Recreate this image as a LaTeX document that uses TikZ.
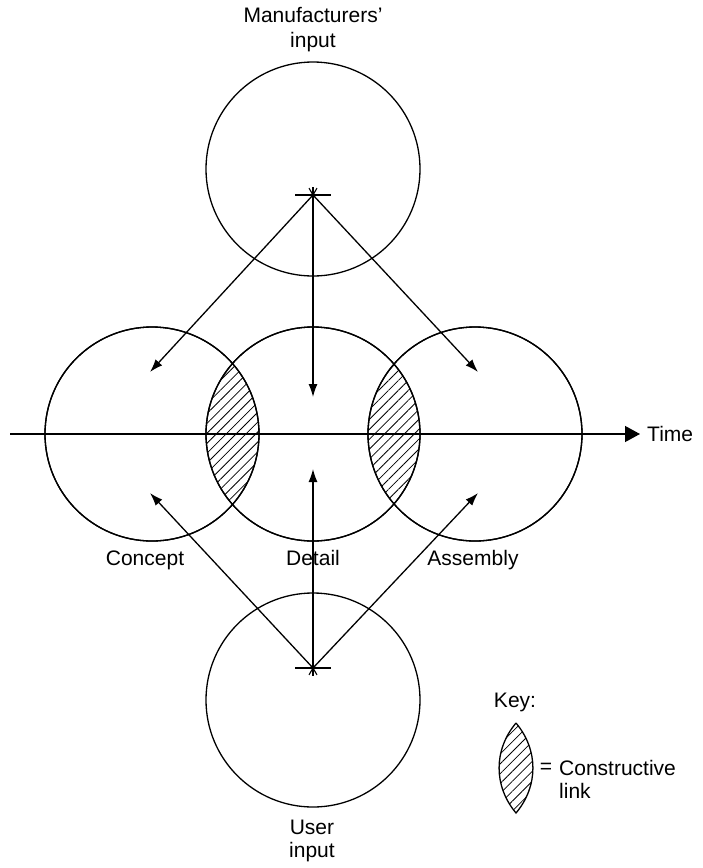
\documentclass[tikz,border=0pt]{standalone}
\usepackage{fontspec}
\setmainfont{Liberation Sans}
\usetikzlibrary{arrows.meta, positioning, patterns.meta}

\begin{document}
\begin{tikzpicture}[
    x=1pt, y=-1pt,
    font=\fontsize{21}{24}\selectfont,
    phase/.style={draw, circle, line width=1.3pt, minimum size=214pt, inner sep=0pt},
    lbl/.style={inner sep=0pt, align=center},
    arr/.style={-{Latex[length=13pt, width=9pt]}, line width=1.3pt},
    hatch/.style={pattern={Lines[angle=45, distance=7pt, line width=0.8pt]}},
]
\useasboundingbox (0,0) rectangle (702,868);

% circles
\node[phase] (manu)    at (313,169) {};
\node[phase] (concept) at (152,434) {};
\node[phase] (detail)  at (313,434) {};
\node[phase] (assem)   at (475,434) {};
\node[phase] (user)    at (313,700) {};

% constructive links
\begin{scope}
  \clip (152,434) circle (107);
  \fill[hatch] (313,434) circle (107);
\end{scope}
\begin{scope}
  \clip (313,434) circle (107);
  \fill[hatch] (475,434) circle (107);
\end{scope}
\draw[line width=1.3pt] (152,434) circle (107) (313,434) circle (107) (475,434) circle (107);

% time axis
\coordinate (t0) at (10,434);
\coordinate (t1) at (640,434);
\draw[-{Triangle[length=15pt, width=16pt]}, line width=1.3pt] (t0) -- (t1);
\node[lbl, anchor=west] (time) at (647,434) {Time};

% input points
\coordinate (mstar) at (313,195);
\coordinate (ustar) at (313,668);
\draw[line width=1.3pt] ([xshift=-18pt]mstar) -- ([xshift=18pt]mstar);
\draw[line width=1.3pt] ([xshift=-18pt]ustar) -- ([xshift=18pt]ustar);
\foreach \a in {60,90,120} {
  \draw[line width=1.1pt] (mstar) -- ++(\a:8pt);
  \draw[line width=1.1pt] (ustar) -- ++(-\a:8pt);
}

\coordinate (mc) at (150,372);
\coordinate (md) at (313,397);
\coordinate (ma) at (478,372);
\coordinate (uc) at (150,493);
\coordinate (ud) at (313,469);
\coordinate (ua) at (478,493);

\draw[arr] (mstar) -- (mc);
\draw[arr] (mstar) -- (md);
\draw[arr] (mstar) -- (ma);
\draw[arr] (ustar) -- (uc);
\draw[arr] (ustar) -- (ud);
\draw[arr] (ustar) -- (ua);

% labels
\node[lbl, font=\fontsize{21}{25}\selectfont] (manulbl) at (313,30) {Manufacturers'\\input};
\node[lbl, anchor=base] (conceptlbl) at (145,565) {Concept};
\node[lbl, anchor=base] (detaillbl)  at (313,565) {Detail};
\node[lbl, anchor=base] (assemlbl)   at (473,565) {Assembly};
\node[lbl, font=\fontsize{21}{23}\selectfont] (userlbl) at (312,841) {User\\input};

% key
\node[lbl] (keylbl) at (515,702) {Key:};
\coordinate (ktop) at (516,723);
\coordinate (kbot) at (516,813);
\draw[hatch, line width=1.3pt] (ktop) to[bend left=40] (kbot) to[bend left=40] (ktop);
\node[lbl] (keyeq) at (546,768) {=};
\node[lbl, anchor=west, align=left, font=\fontsize{21}{23}\selectfont] (keytxt) at (559,779) {Constructive\\link};

\end{tikzpicture}
\end{document}
